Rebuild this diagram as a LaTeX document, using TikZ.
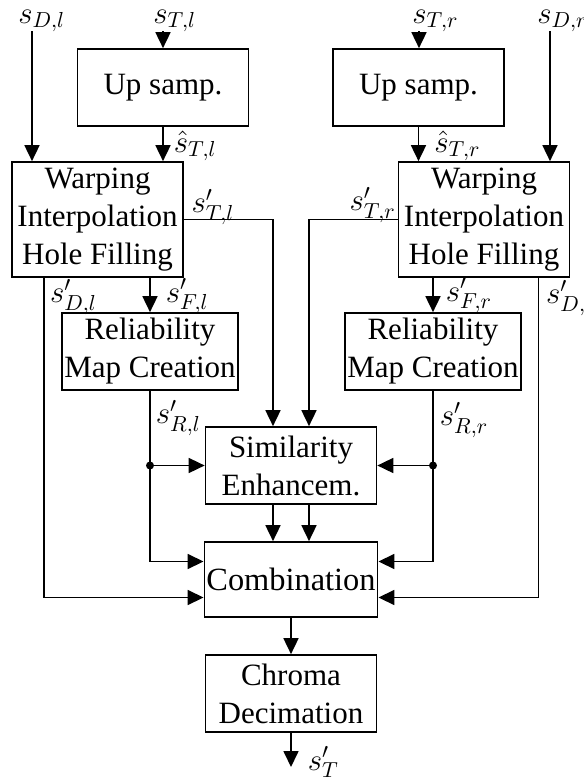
\RequirePackage{fix-cm}
\documentclass[tikz,border=0pt]{standalone}
\usepackage{fontspec}
\setmainfont{Liberation Serif}
\usetikzlibrary{arrows.meta,positioning,calc}

\begin{document}
\begin{tikzpicture}[x=0.5pt, y=-0.5pt, font=\fontsize{15.5}{19}\selectfont,
  blk/.style={draw, line width=0.85pt, minimum width=85.5pt, minimum height=38.5pt, align=center, inner sep=1pt},
  arr/.style={-{Triangle[length=8pt, width=7.5pt]}, line width=0.85pt},
  sig/.style={inner sep=1pt}]
\useasboundingbox (0,0) rectangle (584,778);
\node[blk] (upl) at (163,87.5) {Up samp.};
\node[blk] (upr) at (418.5,87.5) {Up samp.};
\node[blk, minimum height=57.5pt] (warpl) at (97.5,219.5) {Warping\\Interpolation\\Hole Filling};
\node[blk, minimum height=57.5pt] (warpr) at (484,219.5) {Warping\\Interpolation\\Hole Filling};
\node[blk] (rell) at (150,351.5) {Reliability\\Map Creation};
\node[blk] (relr) at (433,351.5) {Reliability\\Map Creation};
\node[blk] (sim) at (291,465.5) {Similarity\\Enhancem.};
\node[blk, minimum height=37.5pt, font=\fontsize{16.2}{19}\selectfont] (comb) at (291,579.5) {Combination};
\node[blk] (chroma) at (291,693.5) {Chroma\\Decimation};
\coordinate (inDl) at (32,31);
\coordinate (inTl) at (163,31);
\coordinate (inTr) at (419,31);
\coordinate (inDr) at (550,31);
\coordinate (outT) at (291,767);
\node[sig, anchor=base west] (sDl) at (16,23) {$s_{D,l}$};
\node[sig, anchor=base west] (sTl) at (151,23) {$s_{T,l}$};
\node[sig, anchor=base west] (sTr) at (410,23) {$s_{T,r}$};
\node[sig, anchor=base west] (sDr) at (535,23) {$s_{D,r}$};
\draw[arr] (inDl) -- (inDl |- warpl.north);
\draw[arr] (inTl) -- (upl.north);
\draw[arr] (inTr) -- (inTr |- upr.north);
\draw[arr] (inDr) -- (inDr |- warpr.north);
\draw[arr] (upl.south) -- (upl.south |- warpl.north) node[sig, anchor=base west, xshift=4pt, yshift=4.5pt] {$\hat s_{T,l}$};
\draw[arr] (upr.south) -- (upr.south |- warpr.north) node[sig, anchor=base west, xshift=6.5pt, yshift=4.5pt] {$\hat s_{T,r}$};
\draw[arr] (warpl.east) node[sig, anchor=base west, xshift=2.5pt, yshift=3.5pt] {$s'_{T,l}$} -| ([xshift=-9pt]sim.north);
\draw[arr] (warpr.west) node[sig, anchor=base east, xshift=0.5pt, yshift=4.5pt] {$s'_{T,r}$} -| ([xshift=9pt]sim.north);
\draw[arr] ([xshift=-9pt]sim.south) -- ([xshift=-9pt]comb.north);
\draw[arr] ([xshift=9pt]sim.south) -- ([xshift=9pt]comb.north);
\draw[arr] ([xshift=16.5pt]warpl.south west) node[sig, anchor=base west, xshift=1.5pt, yshift=-12.5pt] {$s'_{D,l}$} |- ([yshift=-9pt]comb.west);
\draw[arr] ([xshift=-16pt]warpr.south east) node[sig, anchor=base west, xshift=2.5pt, yshift=-13pt] {$s'_{D,r}$} |- ([yshift=-9pt]comb.east);
\draw[arr] (warpl.south -| rell.north) -- (rell.north) node[sig, anchor=base west, xshift=6.5pt, yshift=5pt] {$s'_{F,l}$};
\draw[arr] (warpr.south -| relr.north) -- (relr.north) node[sig, anchor=base west, xshift=5pt, yshift=5.5pt] {$s'_{F,r}$};
\draw[arr] (rell.south) node[sig, anchor=base west, xshift=1.5pt, yshift=-16.5pt] {$s'_{R,l}$} |- ([yshift=9pt]comb.west);
\draw[arr] (relr.south) node[sig, anchor=base west, xshift=2pt, yshift=-17.5pt] {$s'_{R,r}$} |- ([yshift=9pt]comb.east);
\draw[arr] (rell.south |- sim.west) -- (sim.west);
\draw[arr] (relr.south |- sim.east) -- (sim.east);
\fill (rell.south |- sim.west) circle (2pt);
\fill (relr.south |- sim.east) circle (2pt);
\draw[arr] (comb) -- (chroma);
\draw[arr] (chroma) -- (outT) node[sig, anchor=base west, xshift=7pt, yshift=-1.5pt] {$s'_T$};
\end{tikzpicture}
\end{document}
